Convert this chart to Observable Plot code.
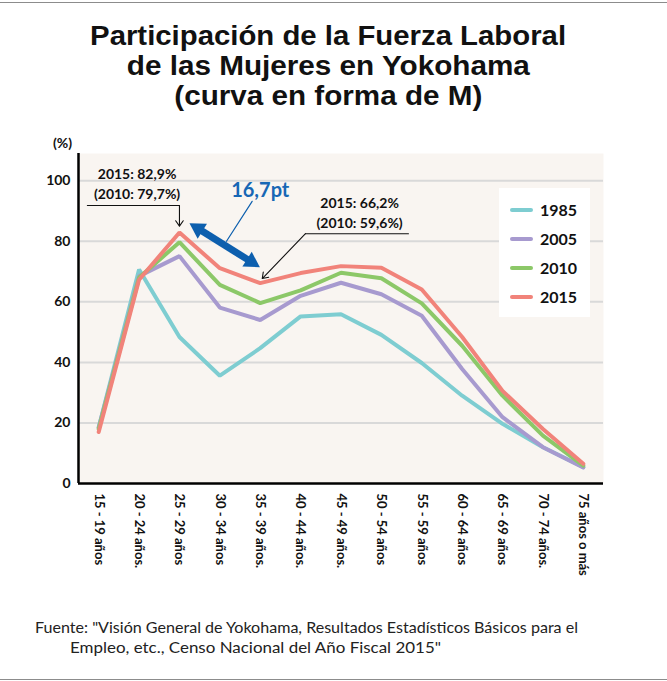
<!DOCTYPE html>
<html><head><meta charset="utf-8">
<script src="https://cdn.jsdelivr.net/npm/d3@7"></script>
<script src="https://cdn.jsdelivr.net/npm/@observablehq/plot@0.6"></script>
<style>
body{margin:0;background:#fff;font-family:Lato,sans-serif;}
#root{position:relative;width:667px;height:681px;overflow:hidden;background:#fff;}
#deco{position:absolute;left:0;top:0;}
#title{position:absolute;left:0;top:20.5px;width:656px;text-align:center;font:bold 27px "Liberation Sans",sans-serif;line-height:30.25px;color:#111;}
#title span{display:inline-block;white-space:nowrap;transform-origin:50% 50%;}
#chart{position:absolute;left:0;top:125px;}
#legend{position:absolute;left:499px;top:188px;width:91px;height:129px;background:#fff;}
.item{position:absolute;left:0;height:20px;}
.sw{position:absolute;left:11px;top:8px;width:23px;height:4px;border-radius:2px;}
.lb{position:absolute;left:41px;top:0;font:bold 16px Lato,sans-serif;line-height:20px;color:#111;}
.hr{position:absolute;left:0;width:667px;height:1.5px;background:#8c8c8c;}
</style></head><body><div id="root"></div>
<script>
// ---- data ----
const ages = ["15 - 19 años","20 - 24 años.","25 - 29 años","30 - 34 años","35 - 39 años.","40 - 44 años.","45 - 49 años.","50 - 54 años","55 - 59 años","60 - 64 años","65 - 69 años","70 - 74 años.","75 años o más"];
const series = ["1985","2005","2010","2015"];
const colors = ["#7ecdd1","#a79acf","#8cc868","#f1837a"];
const v1985 = [18.5, 70.7, 48.4, 35.6, 44.7, 55.2, 55.9, 49.1, 39.8, 29.0, 19.7, 12.0, 5.4];
const v2005 = [18.5, 68.5, 75.1, 58.1, 54.0, 62.0, 66.3, 62.5, 55.4, 37.8, 21.9, 12.0, 5.3];
const v2010 = [18.0, 68.0, 79.7, 65.6, 59.6, 63.8, 69.6, 67.8, 59.5, 45.5, 29.0, 15.8, 5.9];
const v2015 = [17.0, 67.3, 82.9, 71.1, 66.2, 69.5, 71.8, 71.3, 64.1, 48.4, 30.6, 18.0, 6.5];
const yTicks = [0, 20, 40, 60, 80, 100];
const yDomain = [0, 109];
const xDomain = [-0.5, ages.length - 0.5];
const titleLines = ["Participación de la Fuerza Laboral", "de las Mujeres en Yokohama", "(curva en forma de M)"];
const captionLines = ['Fuente: "Visión General de Yokohama, Resultados Estadísticos Básicos para el', 'Empleo, etc., Censo Nacional del Año Fiscal 2015"'];
const yUnit = "(%)";
// annotations (data space: i = age-group index, v = %)
const noteLabels = [
  {i: 0.95, v: 99.4, label: "2015: 82,9%\n(2010: 79,7%)"},
  {i: 6.46, v: 89.9, label: "2015: 66,2%\n(2010: 59,6%)"}
];
const noteLeaders = [
  {id: 0, i: -0.28, v: 91.8}, {id: 0, i: 2.0, v: 91.8},
  {id: 1, i: 7.67, v: 82.5}, {id: 1, i: 5.12, v: 82.5}
];
const noteArrows = [
  {i1: 2.0, v1: 91.8, i2: 2.0, v2: 85.0},
  {i1: 5.12, v1: 82.5, i2: 4.05, v2: 67.7}
];
const gapArrow = [{i: 2.46, v: 84.2, rot: -57.8}, {i: 3.78, v: 73.2, rot: 122.2}];
const gapLabel = [{i: 4.0, v: 96.8, label: "16,7pt"}];
const gapLeader = [{i: 3.80, v: 93.2}, {i: 3.165, v: 80.0}];

// ---- build ----
const values = [v1985, v2005, v2010, v2015];
const rows = series.flatMap((s, k) => values[k].map((v, i) => ({series: s, i, v})));
const blue = "#0d5fae";
const root = document.getElementById("root");

// title (HTML, each line fitted to the reference width)
const tW = [476, 403, 308];
const title = d3.select(root).append("div").attr("id", "title");
titleLines.forEach((t, k) => {
  const span = title.append("div").append("span").text(t);
  const w = span.node().getBoundingClientRect().width;
  span.style("transform", `scaleX(${tW[k] / w})`);
});

// decoration svg: caption, rules
const deco = d3.select(root).append("svg").attr("id", "deco").attr("width", 667).attr("height", 681);
const cX = [35, 70], cY = [633, 653], cW = [543, 371];
captionLines.forEach((t, k) => deco.append("text").text(t)
  .attr("x", cX[k]).attr("y", cY[k])
  .attr("font-family", "Lato, sans-serif").attr("font-size", 15)
  .attr("fill", "#222").attr("textLength", cW[k]).attr("lengthAdjust", "spacingAndGlyphs"));
d3.select(root).append("div").attr("class", "hr").style("top", "1.5px");
d3.select(root).append("div").attr("class", "hr").style("top", "678.5px");

const chart = Plot.plot({
  width: 667, height: 475,
  marginTop: 28, marginRight: 64, marginBottom: 117, marginLeft: 78,
  style: {fontFamily: "Lato, sans-serif", color: "#111", background: "transparent", overflow: "visible"},
  x: {domain: xDomain, axis: null},
  y: {domain: yDomain, axis: null},
  color: {domain: series, range: colors},
  marks: [
    Plot.frame({fill: "#f9f5f1", stroke: null}),
    Plot.gridY(yTicks.filter(d => d > 0), {stroke: "#d9d9d9", strokeOpacity: 1, strokeWidth: 2}),
    Plot.axisY(yTicks, {tickSize: 0, tickPadding: 8, fontSize: 14, fontWeight: "bold", label: null}),
    Plot.axisX(d3.range(ages.length), {tickFormat: i => ages[i], tickRotate: 90, tickSize: 0, tickPadding: 10, fontSize: 13, fontWeight: "bold", label: null}),
    Plot.text([yUnit], {frameAnchor: "top-left", dx: -16, dy: -10, fontSize: 14, fontWeight: "bold", textAnchor: "middle", lineAnchor: "middle"}),
    Plot.ruleX([xDomain[0]], {stroke: "#000", strokeWidth: 2.5}),
    Plot.ruleY([yDomain[0]], {stroke: "#000", strokeWidth: 2.5}),
    Plot.line(rows, {x: "i", y: "v", z: "series", stroke: "series", strokeWidth: 4, strokeLinejoin: "miter"}),
    Plot.text(noteLabels, {x: "i", y: "v", text: "label", fontSize: 14, fontWeight: "bold", lineHeight: 1.43, lineAnchor: "middle", fill: "#111"}),
    Plot.line(noteLeaders, {x: "i", y: "v", z: "id", stroke: "#111", strokeWidth: 1.1}),
    Plot.arrow(noteArrows, {x1: "i1", y1: "v1", x2: "i2", y2: "v2", stroke: "#111", strokeWidth: 1.1, headLength: 9, headAngle: 70}),
    Plot.line(gapLeader, {x: "i", y: "v", stroke: blue, strokeWidth: 1.2}),
    Plot.line(gapArrow, {x: "i", y: "v", stroke: blue, strokeWidth: 7, strokeLinecap: "butt"}),
    Plot.dot(gapArrow, {x: "i", y: "v", symbol: "triangle", r: 6.5, fill: blue, stroke: null, rotate: "rot"}),
    Plot.text(gapLabel, {x: "i", y: "v", text: "label", fontSize: 20, fontWeight: "bold", fill: "#1767b5"})
  ]
});
chart.setAttribute("id", "chart");
root.appendChild(chart);

// legend
const legend = d3.select(root).append("div").attr("id", "legend");
series.forEach((s, k) => {
  const it = legend.append("div").attr("class", "item").style("top", (12 + k * 29) + "px");
  it.append("div").attr("class", "sw").style("background", colors[k]);
  it.append("div").attr("class", "lb").text(s);
});
</script></body></html>
